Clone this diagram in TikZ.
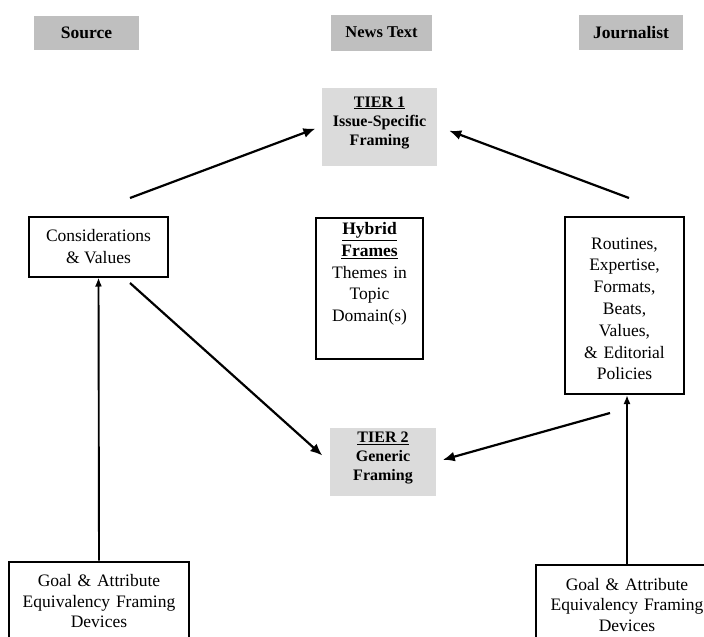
\documentclass[tikz,border=0pt]{standalone}
\usepackage{fontspec}
\setmainfont{Liberation Serif}
\usepackage{tikz}
\usetikzlibrary{%
  arrows.meta,% Latex tips
  positioning% wg. " of "
}
\definecolor{headgray}{gray}{0.75}
\definecolor{tiergray}{gray}{0.86}

\begin{document}
\begin{tikzpicture}[x=1pt,y=-1pt,line width=2pt,
    head/.style={fill=headgray,minimum width=104pt,minimum height=35pt,inner sep=0pt,font=\fontsize{17.5}{19}\selectfont\bfseries},
    tier/.style={fill=tiergray,align=center,inner sep=0pt,font=\fontsize{16}{19}\selectfont\bfseries},
    frame/.style={draw,align=center,inner sep=0pt,font=\fontsize{17.5}{21.8}\selectfont},
    flow/.style={-{Latex[length=12pt,width=10pt]},line width=2.2pt},
    lift/.style={-{Latex[length=9pt,width=7pt]},line width=1.9pt}]
    \useasboundingbox (0,0) rectangle (704,637);
    \clip (0,0) rectangle (704,637);

    %column heads
    \node[head,minimum width=101pt,minimum height=36pt,font=\fontsize{16.5}{19}\selectfont\bfseries] (newstext) at (381.5,32.5) {News Text};
    \node[head,minimum width=105pt,minimum height=34pt] (source) [left=190pt of newstext] {Source};
    \node[head] (journalist) [right=145pt of newstext] {Journalist};

    %news text
    \node[tier,minimum width=115pt,minimum height=78pt] (tier1) [below=35pt of newstext, xshift=-2pt] {\underline{TIER 1}\\Issue-Specific\\Framing\\[-8pt]\mbox{}};
    \node[frame,text width=107pt,minimum height=141pt] (hybrid) [below=50pt of tier1, xshift=-10pt] {\textbf{\underline{Hybrid}}\\\textbf{\underline{Frames}}\\Themes in\\Topic\\Domain(s)\\[10pt]\mbox{}};
    \node[tier,minimum width=106pt,minimum height=68pt] (tier2) [below=67pt of hybrid, xshift=13.5pt] {\underline{TIER 2}\\Generic\\Framing\\[-8pt]\mbox{}};

    %source side
    \node[frame,minimum width=139pt,minimum height=60pt] (cons) [below=165pt of source, xshift=12pt] {Considerations\\\& Values};
    \node[frame,text width=180pt,minimum height=80pt,font=\fontsize{17.5}{20.5}\selectfont] (goal-src) [below=283pt of cons, xshift=0.5pt] {Goal \& Attribute\\Equivalency Framing\\Devices};

    %journalist side
    \node[frame,text width=119pt,minimum height=177pt] (routines) [below=165pt of journalist, xshift=-6.5pt] {\rule{0pt}{18pt}Routines,\\Expertise,\\Formats,\\Beats,\\Values,\\\& Editorial\\Policies};
    \node[frame,text width=182pt,minimum height=80pt,font=\fontsize{17.5}{20.5}\selectfont] (goal-jour) [below=169pt of routines, xshift=2.5pt] {Goal \& Attribute\\Equivalency Framing\\Devices};

    %free arrow ends
    \coordinate (src-t1) at (130,198);
    \coordinate (jour-t1) at (629,198);
    \coordinate (src-t2) at (130,283);
    \coordinate (jour-t2) at (610,413);

    \path
     (src-t1) edge[flow, shorten >=6pt] (tier1.west)
     (jour-t1) edge[flow, shorten >=12pt] (tier1.east)
     (src-t2) edge[flow, shorten >=9pt] (tier2.west)
     (jour-t2) edge[flow, shorten >=6pt] (tier2.east)
     (goal-src.north) edge[lift] (cons.south)
     (goal-jour.north) edge[lift] (goal-jour.north |- routines.south);

\end{tikzpicture}
\end{document}
